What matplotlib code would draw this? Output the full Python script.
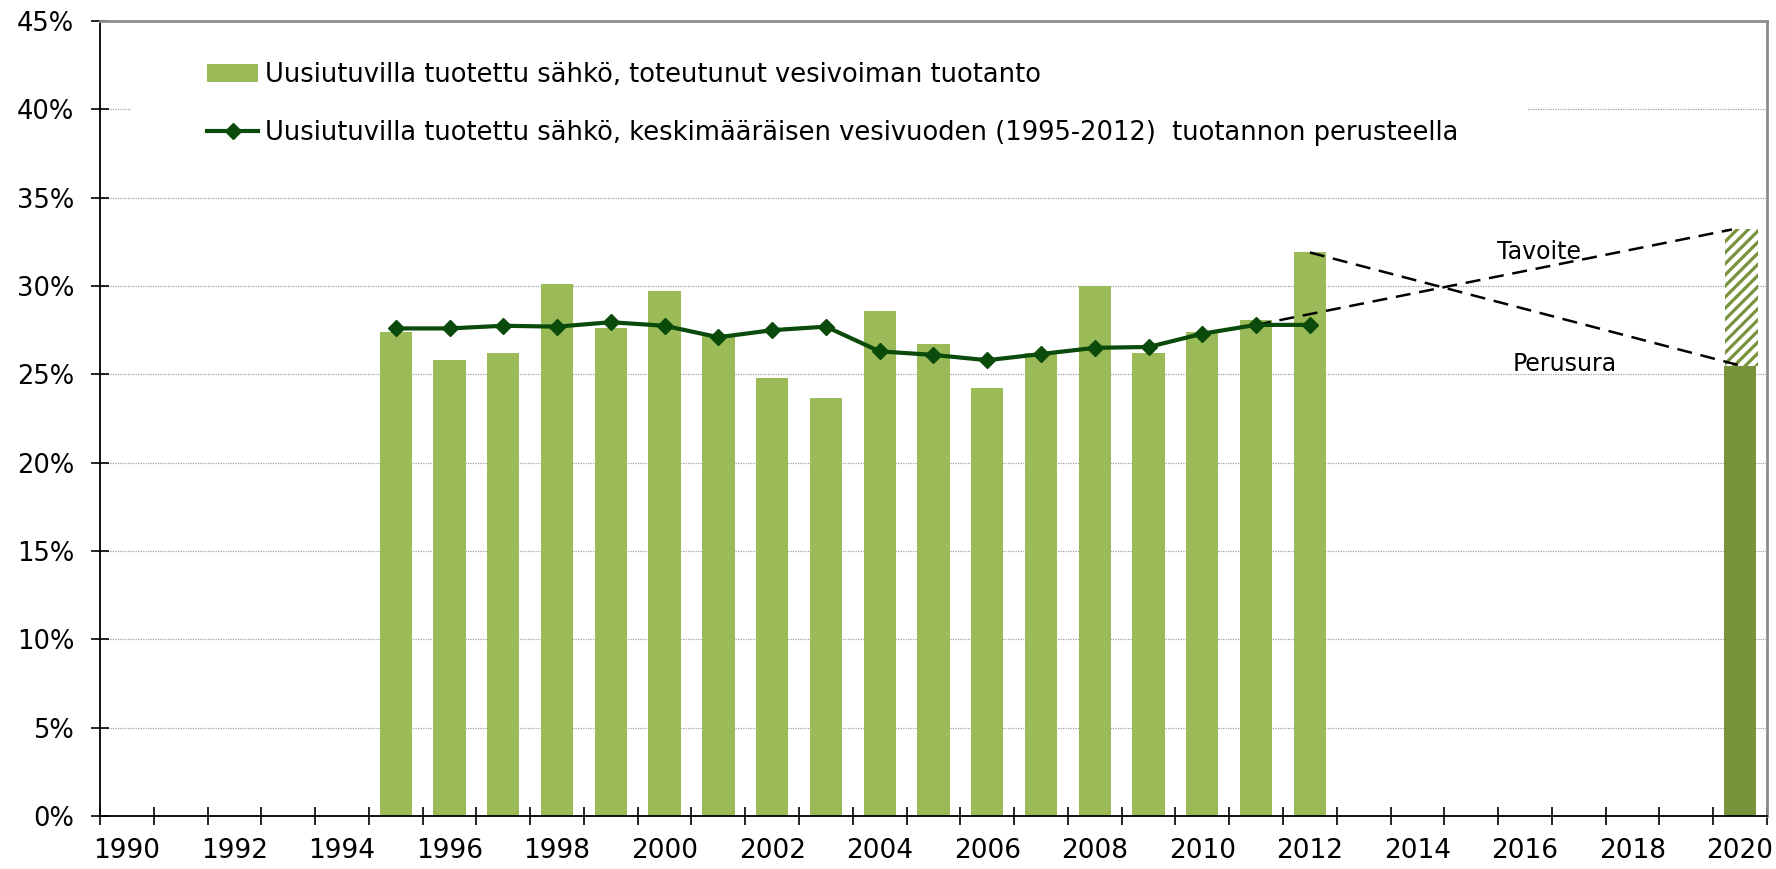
import matplotlib
matplotlib.use("Agg")
import matplotlib.pyplot as plt
from matplotlib.patches import Rectangle
import numpy as np

plt.rcParams['font.family'] = ['DejaVu Sans']
plt.rcParams['hatch.linewidth'] = 2.3

years = list(range(1990, 2021))
bar_years = list(range(1995, 2013))
bar_values = [27.4, 25.8, 26.2, 30.1, 27.6, 29.7, 27.3, 24.8, 23.65, 28.6,
              26.7, 24.2, 26.2, 30.0, 26.2, 27.4, 28.1, 31.9]
line_values = [27.6, 27.6, 27.75, 27.7, 27.95, 27.75, 27.1, 27.5, 27.7, 26.3,
               26.1, 25.8, 26.15, 26.5, 26.55, 27.3, 27.8, 27.8]
base_2020 = 25.5
target_2020 = 33.2
label_bars = "Uusiutuvilla tuotettu sähkö, toteutunut vesivoiman tuotanto"
label_line = "Uusiutuvilla tuotettu sähkö, keskimääräisen vesivuoden (1995-2012)  tuotannon perusteella"
yticks = [0, 5, 10, 15, 20, 25, 30, 35, 40, 45]

bar_color = '#9bbb59'
dark_bar = '#77933c'
line_color = '#0a4a0a'

def pos(y):
    return years.index(y) + 0.5

fig = plt.figure(figsize=(17.76, 8.69), dpi=100)
ax = fig.add_axes([0.0563, 0.061, 0.9386, 0.9148])
ax.set_xlim(0, len(years))
ax.set_ylim(0, 45)

# grid
for t in yticks[1:-1]:
    ax.axhline(t, color='#a0a0a0', lw=0.9, ls=(0, (1, 1)), zorder=0.5)

# white box behind legend
ax.add_patch(Rectangle((31 / 1666, 0.80), (1527 - 131) / 1666, 0.19,
                       transform=ax.transAxes, facecolor='white', edgecolor='none', zorder=1))

bx = [pos(y) for y in bar_years]
h_bar = ax.bar(bx, bar_values, width=0.6, color=bar_color, zorder=2)
h_line, = ax.plot(bx, line_values, color=line_color, lw=3, marker='D', markersize=8,
                  zorder=4)

# 2020 bar
p20 = pos(2020)
ax.bar(p20, base_2020, width=0.6, color=dark_bar, zorder=2)
ax.bar(p20 + 0.03, target_2020 - base_2020, bottom=base_2020, width=0.62,
       facecolor='white', edgecolor=dark_bar, hatch='///', linewidth=0, zorder=2)

# dashed projection lines
ax.plot([pos(2011), p20 - 0.15], [line_values[-2], target_2020], color='black',
        lw=1.8, ls=(0, (6, 3.5)), zorder=3)
ax.plot([pos(2012), p20], [bar_values[-1], base_2020], color='black',
        lw=1.8, ls=(0, (6, 3.5)), zorder=3)
ax.text(26.76, 31.9, "Tavoite", fontsize=17, ha='center', va='center', zorder=5)
ax.text(27.24, 25.6, "Perusura", fontsize=17, ha='center', va='center', zorder=5)

# axes styling
ax.set_yticks(yticks)
ax.set_yticklabels([f"{t}%" for t in yticks], fontsize=18.5)
ax.tick_params(axis='y', direction='inout', length=13, width=1.2, pad=12)
ax.set_xticks([pos(y) for y in years if y % 2 == 0])
ax.set_xticklabels([str(y) for y in years if y % 2 == 0], fontsize=19)
ax.set_xticks(np.arange(0, len(years) + 1), minor=True)
ax.tick_params(axis='x', which='major', length=0, pad=16)
ax.tick_params(axis='x', which='minor', direction='inout', length=13, width=1.2)
for s in ['left', 'bottom']:
    ax.spines[s].set_color('black')
    ax.spines[s].set_linewidth(1.3)
for s in ['top', 'right']:
    ax.spines[s].set_color('#8c8c8c')
    ax.spines[s].set_linewidth(2)

leg = ax.legend([h_bar, h_line], [label_bars, label_line],
                loc='upper left', bbox_to_anchor=(0.058, 0.962), frameon=False,
                fontsize=18.5, handlelength=2.0, handletextpad=0.25, labelspacing=1.28,
                borderaxespad=0)
leg.set_zorder(6)

fig.savefig("out.png", dpi=100)
